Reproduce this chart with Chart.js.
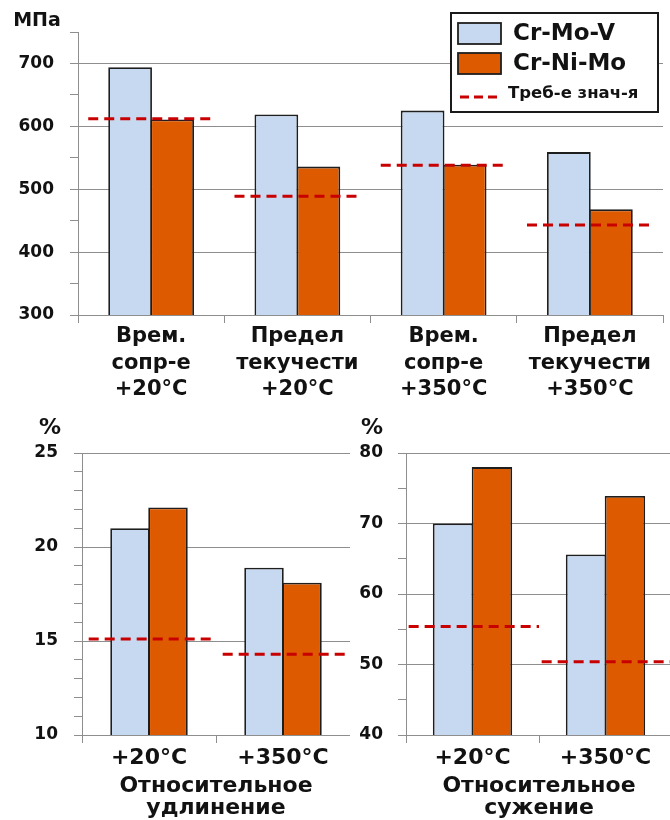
<!DOCTYPE html>
<html>
<head>
<meta charset="utf-8">
<script src="https://cdn.jsdelivr.net/npm/chart.js@4/dist/chart.umd.min.js"></script>
<style>
  html, body { margin: 0; padding: 0; background: #fff; width: 670px; height: 820px; overflow: hidden; }
  .panel { position: absolute; }
</style>
</head>
<body>
<div class="panel" style="left:0;top:0"><canvas id="strength" width="670" height="400"></canvas></div>
<div class="panel" style="left:0;top:410px"><canvas id="elongation" width="350" height="410"></canvas></div>
<div class="panel" style="left:330px;top:410px"><canvas id="reduction" width="345" height="410"></canvas></div>

<script>
// Series names (legend)
const seriesNames = ['Cr-Mo-V', 'Cr-Ni-Mo', 'Треб-е знач-я'];

// Strength, MPa
const strengthCategories = [
  ['Врем.', 'сопр-е', '+20°C'],
  ['Предел', 'текучести', '+20°C'],
  ['Врем.', 'сопр-е', '+350°C'],
  ['Предел', 'текучести', '+350°C']
];
const strengthCrMoV    = [694, 619, 625, 559];
const strengthCrNiMo   = [611, 536, 539, 468];
const strengthRequired = [612, 489, 538, 443];

// Ductility, %
const tempCategories = ['+20°C', '+350°C'];
const elongationCrMoV    = [21.0, 18.9];
const elongationCrNiMo   = [22.1, 18.1];
const elongationRequired = [15.1, 14.3];

const reductionCrMoV    = [70.0, 65.6];
const reductionCrNiMo   = [78.0, 73.9];
const reductionRequired = [55.4, 50.4];

const FONT = "'DejaVu Sans', sans-serif";
const TEXT = '#121212';
const GRID = '#8e8e8e';
const BLUE = '#c6d9f1';
const ORANGE = '#de5a00';
const RED = '#c80000';
const EDGE = '#1e1e1e';

// Bar values placed at category index positions
const atIndex = values => values.map((v, i) => ({ x: i, y: v }));

// Short horizontal segments, one per category, broken by null gaps
function requiredSegments(values, lo, hi) {
  const pts = [];
  values.forEach((v, i) => {
    pts.push({ x: i + lo, y: v }, { x: i + hi, y: v });
    if (i < values.length - 1) pts.push({ x: i + hi, y: null });
  });
  return pts;
}

// Unit caption above the value axis
const unitLabel = {
  id: 'unitLabel',
  afterDraw(chart, args, opts) {
    const ctx = chart.ctx;
    ctx.save();
    ctx.font = `bold ${opts.size}px ${FONT}`;
    ctx.fillStyle = TEXT;
    ctx.textAlign = 'center';
    ctx.textBaseline = 'middle';
    ctx.fillText(opts.text, opts.x, opts.y);
    ctx.restore();
  }
};

// Boxed legend drawn inside the plot area
const legendBox = {
  id: 'legendBox',
  afterDraw(chart, args, opts) {
    const ctx = chart.ctx;
    const ds = chart.data.datasets;
    const b = opts.box;
    ctx.save();
    ctx.fillStyle = '#fff';
    ctx.fillRect(b.x, b.y, b.w, b.h);
    ctx.lineWidth = 2;
    ctx.strokeStyle = '#1a1a1a';
    ctx.strokeRect(b.x, b.y, b.w, b.h);

    ctx.textAlign = 'left';
    ctx.textBaseline = 'middle';

    // bar swatches
    [0, 1].forEach(i => {
      const sy = b.y + 10 + i * 30;
      ctx.fillStyle = ds[i].backgroundColor;
      ctx.fillRect(b.x + 7, sy, 43, 21);
      ctx.lineWidth = 1.8;
      ctx.strokeStyle = EDGE;
      ctx.strokeRect(b.x + 7, sy, 43, 21);
      ctx.fillStyle = TEXT;
      ctx.font = `bold 23px ${FONT}`;
      ctx.fillText(ds[i].label, b.x + 62, sy + 11);
    });

    // dashed line swatch
    const ly = b.y + 84;
    ctx.strokeStyle = ds[2].borderColor;
    ctx.lineWidth = 3;
    ctx.setLineDash([9, 5]);
    ctx.beginPath();
    ctx.moveTo(b.x + 9, ly);
    ctx.lineTo(b.x + 50, ly);
    ctx.stroke();
    ctx.setLineDash([]);
    ctx.fillStyle = TEXT;
    ctx.font = `bold 16.5px ${FONT}`;
    ctx.fillText(ds[2].label, b.x + 57, ly - 3);
    ctx.restore();
  }
};

function buildChart(canvasId, o) {
  const n = o.labels.length;
  return new Chart(document.getElementById(canvasId), {
    type: 'bar',
    data: {
      labels: o.labels,
      datasets: [
        { label: seriesNames[0], data: atIndex(o.a), xAxisID: 'xl', backgroundColor: BLUE, borderColor: EDGE,
          borderWidth: 1.8, borderSkipped: false, categoryPercentage: o.catPct, barPercentage: 1.04 },
        { label: seriesNames[1], data: atIndex(o.b), xAxisID: 'xl', backgroundColor: ORANGE, borderColor: EDGE,
          borderWidth: 1.8, borderSkipped: false, categoryPercentage: o.catPct, barPercentage: 1.04 },
        { type: 'line', label: seriesNames[2], data: requiredSegments(o.req, o.lo, o.hi), xAxisID: 'xl',
          borderColor: RED, borderWidth: 3, borderDash: [10, 6], borderCapStyle: 'butt',
          pointRadius: 0, spanGaps: false, fill: false, tension: 0, order: -1 }
      ]
    },
    options: {
      responsive: false,
      animation: false,
      devicePixelRatio: 1,
      layout: { padding: o.padding },
      plugins: {
        legend: { display: false },
        tooltip: { enabled: false },
        unitLabel: o.unit,
        legendBox: o.legend || false
      },
      scales: {
        x: {
          type: 'category',
          offset: true,
          grid: { offset: true, drawOnChartArea: false, tickLength: 8, tickColor: GRID, tickWidth: 1 },
          border: { color: GRID, width: 1 },
          ticks: { autoSkip: false, maxRotation: 0, minRotation: 0, color: TEXT, padding: o.xPad,
                   font: { family: FONT, weight: 'bold', size: o.xFont, lineHeight: o.xLine } },
          title: o.xTitle
            ? { display: true, text: o.xTitle, color: TEXT, padding: { top: 0, bottom: 1 },
                font: { family: FONT, weight: 'bold', size: 22, lineHeight: 1.0 } }
            : { display: false },
          afterFit: s => { s.height = o.xHeight; }
        },
        xl: {
          type: 'linear', display: false, offset: false, grid: { offset: false },
          min: -0.5, max: n - 0.5,
          afterBuildTicks: s => { s.ticks = o.labels.map((_, i) => ({ value: i })); }
        },
        y: {
          min: o.min, max: o.max,
          afterFit: s => { s.width = o.yWidth; },
          border: { color: GRID, width: 1 },
          grid: {
            color: c => (c.tick && c.tick.value % o.major === 0) ? GRID : 'rgba(0,0,0,0)',
            tickColor: GRID, tickLength: 8, lineWidth: 1
          },
          ticks: {
            stepSize: o.minor, autoSkip: false, color: TEXT, padding: o.yPad,
            font: { family: FONT, weight: 'bold', size: 17 },
            callback: v => (v % o.major === 0 ? String(v) : '')
          }
        }
      }
    },
    plugins: [unitLabel, legendBox]
  });
}

buildChart('strength', {
  labels: strengthCategories, a: strengthCrMoV, b: strengthCrNiMo, req: strengthRequired,
  lo: -0.43, hi: 0.44, catPct: 0.575,
  min: 300, max: 750, minor: 50, major: 100,
  padding: { left: 0, right: 7, top: 32, bottom: 0 },
  yWidth: 78, yPad: 16, xHeight: 85, xPad: 1, xFont: 21, xLine: 1.24,
  unit: { text: 'МПа', x: 37, y: 21, size: 19 },
  legend: { box: { x: 451, y: 13, w: 207, h: 99 } }
});

buildChart('elongation', {
  labels: tempCategories, a: elongationCrMoV, b: elongationCrNiMo, req: elongationRequired,
  lo: -0.45, hi: 0.5, catPct: 0.567,
  min: 10, max: 25, minor: 1, major: 5,
  padding: { left: 0, right: 0, top: 43, bottom: 0 },
  yWidth: 82, yPad: 16, xHeight: 85, xPad: 2, xFont: 22, xLine: 1.2,
  xTitle: ['Относительное', 'удлинение'],
  unit: { text: '%', x: 50, y: 18, size: 22 }
});

buildChart('reduction', {
  labels: tempCategories, a: reductionCrMoV, b: reductionCrNiMo, req: reductionRequired,
  lo: -0.48, hi: 0.5, catPct: 0.585,
  min: 40, max: 80, minor: 5, major: 10,
  padding: { left: 0, right: 3, top: 43, bottom: 0 },
  yWidth: 76, yPad: 15, xHeight: 85, xPad: 2, xFont: 22, xLine: 1.2,
  xTitle: ['Относительное', 'сужение'],
  unit: { text: '%', x: 42, y: 18, size: 22 }
});
</script>
</body>
</html>
